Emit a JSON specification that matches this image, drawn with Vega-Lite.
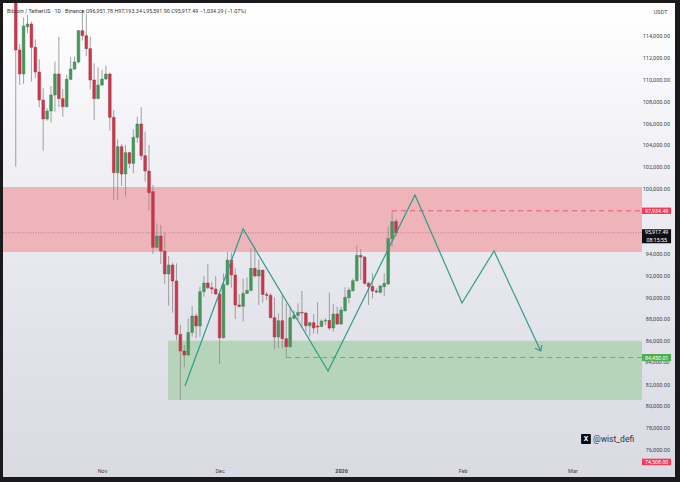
{
"$schema":"https://vega.github.io/schema/vega-lite/v6.json",
"width":672,"height":474,"autosize":"none",
"padding":{"left":3,"top":3,"right":5,"bottom":5},
"background":"#1a1a1c",
"title":{"text":"Bitcoin / TetherUS · 1D · Binance  O96,951.78  H97,193.34  L95,591.90  C95,917.49  −1,034.29 (−1.07%)","anchor":"start","frame":"group","orient":"top","offset":-11,"dx":4,"font":"Roboto","fontSize":5.4,"fontWeight":"normal","color":"#333"},
"config":{"view":{"stroke":null},"font":"Roboto"},
"datasets":{
"candles":[
{"d":"2025-10-10","o":118000,"h":118000,"l":101989,"c":112713},
{"d":"2025-10-11","o":112713,"h":113265,"l":109496,"c":110507},
{"d":"2025-10-12","o":110507,"h":115716,"l":109588,"c":114919},
{"d":"2025-10-13","o":114858,"h":115930,"l":114245,"c":115103},
{"d":"2025-10-14","o":115103,"h":115317,"l":109802,"c":112958},
{"d":"2025-10-15","o":112958,"h":113693,"l":110109,"c":110691},
{"d":"2025-10-16","o":110691,"h":111855,"l":107443,"c":108117},
{"d":"2025-10-17","o":108117,"h":109189,"l":103460,"c":106371},
{"d":"2025-10-18","o":106371,"h":107351,"l":106217,"c":107106},
{"d":"2025-10-19","o":107106,"h":109404,"l":106064,"c":108577},
{"d":"2025-10-20","o":108577,"h":111641,"l":107045,"c":110507},
{"d":"2025-10-21","o":110507,"h":113939,"l":107443,"c":108240},
{"d":"2025-10-22","o":108240,"h":109097,"l":106585,"c":107504},
{"d":"2025-10-23","o":107504,"h":110415,"l":107443,"c":110016},
{"d":"2025-10-24","o":110016,"h":112039,"l":109955,"c":110966},
{"d":"2025-10-25","o":110966,"h":112100,"l":110875,"c":111610},
{"d":"2025-10-26","o":111610,"h":114551,"l":111487,"c":114490},
{"d":"2025-10-27","o":114490,"h":116390,"l":113571,"c":114030},
{"d":"2025-10-28","o":114030,"h":116022,"l":112161,"c":112836},
{"d":"2025-10-29","o":112836,"h":113939,"l":109097,"c":109955},
{"d":"2025-10-30","o":109955,"h":111487,"l":106279,"c":108240},
{"d":"2025-10-31","o":108240,"h":111120,"l":108240,"c":109496},
{"d":"2025-11-01","o":109496,"h":110875,"l":109404,"c":110047},
{"d":"2025-11-02","o":110047,"h":111273,"l":109955,"c":110507},
{"d":"2025-11-03","o":110507,"h":110630,"l":105298,"c":106524},
{"d":"2025-11-04","o":106524,"h":107198,"l":98925,"c":101438},
{"d":"2025-11-05","o":101438,"h":104501,"l":98925,"c":103827},
{"d":"2025-11-06","o":103827,"h":104072,"l":100212,"c":101315},
{"d":"2025-11-07","o":101315,"h":103980,"l":99231,"c":103276},
{"d":"2025-11-08","o":103276,"h":103368,"l":101836,"c":102295},
{"d":"2025-11-09","o":102295,"h":105421,"l":101376,"c":104685},
{"d":"2025-11-10","o":104685,"h":106585,"l":104195,"c":105911},
{"d":"2025-11-11","o":105911,"h":107443,"l":102601,"c":103000},
{"d":"2025-11-12","o":103000,"h":105206,"l":100610,"c":101591},
{"d":"2025-11-13","o":101591,"h":103980,"l":97944,"c":99599},
{"d":"2025-11-14","o":99691,"h":100300,"l":93961,"c":94574},
{"d":"2025-11-15","o":94574,"h":96780,"l":94482,"c":95616},
{"d":"2025-11-16","o":95616,"h":96627,"l":93042,"c":94237},
{"d":"2025-11-17","o":94237,"h":95922,"l":91204,"c":92123},
{"d":"2025-11-18","o":92123,"h":93777,"l":89212,"c":92950},
{"d":"2025-11-19","o":92950,"h":93164,"l":88568,"c":91480},
{"d":"2025-11-20","o":91480,"h":93103,"l":86056,"c":86577},
{"d":"2025-11-21","o":86577,"h":87435,"l":80541,"c":85045},
{"d":"2025-11-22","o":85045,"h":85596,"l":83543,"c":84677},
{"d":"2025-11-23","o":84677,"h":88048,"l":84616,"c":86761},
{"d":"2025-11-24","o":86761,"h":89181,"l":86362,"c":88262},
{"d":"2025-11-25","o":88262,"h":88507,"l":86209,"c":87343},
{"d":"2025-11-26","o":87343,"h":90958,"l":86362,"c":90499},
{"d":"2025-11-27","o":90499,"h":91939,"l":90039,"c":91296},
{"d":"2025-11-28","o":91296,"h":93042,"l":90744,"c":90866},
{"d":"2025-11-29","o":90866,"h":91357,"l":90284,"c":90744},
{"d":"2025-11-30","o":90744,"h":91939,"l":90192,"c":90284},
{"d":"2025-12-01","o":90284,"h":90407,"l":83850,"c":86271},
{"d":"2025-12-02","o":86271,"h":92184,"l":86179,"c":91173},
{"d":"2025-12-03","o":91173,"h":94145,"l":91020,"c":93410},
{"d":"2025-12-04","o":93410,"h":94084,"l":90866,"c":92031},
{"d":"2025-12-05","o":92031,"h":92644,"l":87986,"c":89273},
{"d":"2025-12-06","o":89273,"h":90284,"l":89059,"c":89151},
{"d":"2025-12-07","o":89151,"h":91724,"l":87741,"c":90346},
{"d":"2025-12-08","o":90346,"h":91816,"l":90284,"c":90621},
{"d":"2025-12-09","o":90621,"h":94482,"l":90499,"c":92644},
{"d":"2025-12-10","o":92644,"h":94482,"l":91816,"c":91939},
{"d":"2025-12-11","o":91939,"h":93471,"l":89273,"c":92490},
{"d":"2025-12-12","o":92490,"h":92490,"l":89488,"c":90254},
{"d":"2025-12-13","o":90254,"h":90499,"l":89733,"c":90162},
{"d":"2025-12-14","o":90162,"h":90346,"l":88048,"c":88109},
{"d":"2025-12-15","o":88109,"h":89978,"l":85198,"c":86332},
{"d":"2025-12-16","o":86332,"h":88507,"l":85290,"c":87833},
{"d":"2025-12-17","o":87833,"h":90192,"l":85290,"c":86179},
{"d":"2025-12-18","o":86179,"h":89426,"l":84463,"c":85443},
{"d":"2025-12-19","o":85443,"h":89120,"l":85351,"c":88109},
{"d":"2025-12-20","o":88048,"h":88752,"l":87956,"c":88323},
{"d":"2025-12-21","o":88323,"h":89426,"l":87894,"c":88599},
{"d":"2025-12-22","o":88599,"h":90560,"l":87282,"c":88538},
{"d":"2025-12-23","o":88538,"h":88660,"l":86822,"c":87374},
{"d":"2025-12-24","o":87374,"h":87741,"l":86362,"c":87649},
{"d":"2025-12-25","o":87649,"h":88446,"l":86669,"c":87159},
{"d":"2025-12-26","o":87343,"h":89518,"l":86608,"c":87251},
{"d":"2025-12-27","o":87312,"h":87956,"l":87220,"c":87803},
{"d":"2025-12-28","o":87803,"h":88048,"l":87435,"c":87864},
{"d":"2025-12-29","o":87864,"h":90407,"l":86975,"c":87159},
{"d":"2025-12-30","o":87159,"h":89365,"l":86822,"c":88446},
{"d":"2025-12-31","o":88446,"h":89120,"l":87435,"c":87527},
{"d":"2026-01-01","o":87527,"h":89120,"l":87435,"c":88814},
{"d":"2026-01-02","o":88752,"h":90897,"l":88660,"c":89978},
{"d":"2026-01-03","o":89947,"h":90897,"l":89426,"c":90652},
{"d":"2026-01-04","o":90591,"h":91724,"l":90499,"c":91510},
{"d":"2026-01-05","o":91510,"h":94788,"l":91418,"c":93839},
{"d":"2026-01-06","o":93839,"h":94390,"l":91571,"c":93685},
{"d":"2026-01-07","o":93685,"h":93777,"l":91142,"c":91265},
{"d":"2026-01-08","o":91265,"h":91418,"l":89273,"c":90989},
{"d":"2026-01-09","o":90989,"h":92184,"l":89886,"c":90560},
{"d":"2026-01-10","o":90560,"h":90805,"l":90346,"c":90468},
{"d":"2026-01-11","o":90437,"h":91112,"l":90346,"c":91020},
{"d":"2026-01-12","o":90958,"h":92184,"l":90100,"c":91265},
{"d":"2026-01-13","o":91204,"h":96474,"l":91112,"c":95371},
{"d":"2026-01-14","o":95371,"h":97934,"l":94635,"c":96933},
{"d":"2026-01-15","o":96951,"h":97193,"l":95591,"c":95917}
],
"wave":[
{"t":"2025-11-22T04:00:00Z","p":81835,"s":"path"},
{"t":"2025-12-07T00:00:00Z","p":96263,"s":"path"},
{"t":"2025-12-28T16:00:00Z","p":83213,"s":"path"},
{"t":"2026-01-19T20:00:00Z","p":99388,"s":"path"},
{"t":"2026-01-31T20:00:00Z","p":89463,"s":"path"},
{"t":"2026-02-09T00:00:00Z","p":94242,"s":"path"},
{"t":"2026-02-20T22:00:00Z","p":85050,"s":"path"},
{"t":"2026-02-19T11:00:00Z","p":85300,"s":"head"},
{"t":"2026-02-20T22:00:00Z","p":85050,"s":"head"},
{"t":"2026-02-21T05:00:00Z","p":85600,"s":"head"}
]
},
"layer":[
{"data":{"values":[{"a":"2025-10-06T18:00:00Z","b":"2026-03-27T04:00:00Z","top":117033,"bot":73467}]},
"mark":{"type":"rect","color":{"gradient":"linear","x1":0,"y1":0,"x2":0,"y2":1,"stops":[{"offset":0,"color":"#ffffff"},{"offset":0.5,"color":"#e9e9f0"},{"offset":1,"color":"#d9dae2"}]}},
"encoding":{
"x":{"field":"a","type":"temporal","title":null,
"scale":{"type":"utc","padding":0,"domain":["2025-10-06T18:00:00Z","2026-03-27T04:00:00Z"]},
"axis":{"orient":"bottom","zindex":1,"values":["2025-11-01T00:00:00Z","2025-12-01T00:00:00Z","2026-01-01T00:00:00Z","2026-02-01T00:00:00Z","2026-03-01T00:00:00Z"],"labelExpr":"utcFormat(datum.value,'%b')=='Jan'?'2026':utcFormat(datum.value,'%b')","domain":false,"ticks":false,"grid":false,"labelPadding":-9,"labelFontSize":5.5,"labelColor":"#444","labelBound":false,"labelFlush":false,"labelOverlap":false,"labelFontWeight":{"condition":{"test":"datum.label=='2026'","value":"bold"},"value":"normal"}}},
"x2":{"field":"b"},
"y":{"field":"top","type":"quantitative","title":null,
"scale":{"domain":[73467,117033],"padding":0,"nice":false,"zero":false},
"axis":{"orient":"right","zindex":1,"tickCount":60,"values":[76000,78000,80000,82000,86000,88000,90000,92000,94000,100000,102000,104000,106000,108000,110000,112000,114000],"format":",.2f","domain":false,"ticks":false,"tickSize":0,"grid":false,"labelAlign":"right","labelPadding":-5.5,"labelFontSize":5.5,"labelColor":"#444","labelBound":false,"labelFlush":false,"labelOverlap":false}},
"y2":{"field":"bot"}}},
{"data":{"values":[{"t":"2026-03-25T18:00:00Z","p":84000,"s":"84,000.00"}]},
"mark":{"type":"text","color":"#444444","fontSize":5.5,"align":"right","baseline":"middle"},
"encoding":{"x":{"field":"t","type":"temporal","title":null},"y":{"field":"p","type":"quantitative","title":null},"text":{"field":"s"}}},
{"data":{"values":[
{"a":"2025-10-06T18:00:00Z","b":"2026-03-18T18:00:00Z","top":100123,"bot":94150}]},
"mark":{"type":"rect","color":"#eeb4ba"},
"encoding":{"x":{"field":"a","type":"temporal","title":null},"x2":{"field":"b"},"y":{"field":"top","type":"quantitative","title":null},"y2":{"field":"bot"}}},
{"data":{"values":[
{"a":"2025-11-17T20:00:00Z","b":"2026-03-18T18:00:00Z","top":86000,"bot":80548}]},
"mark":{"type":"rect","color":"#b6d4b9"},
"encoding":{"x":{"field":"a","type":"temporal","title":null},"x2":{"field":"b"},"y":{"field":"top","type":"quantitative","title":null},"y2":{"field":"bot"}}},
{"data":{"values":[{"a":"2025-10-06T18:00:00Z","b":"2026-03-18T18:00:00Z","p":95917.49}]},
"mark":{"type":"rule","color":"#a2585f","strokeWidth":0.6,"strokeDash":[1,1.5]},
"encoding":{"x":{"field":"a","type":"temporal","title":null},"x2":{"field":"b"},"y":{"field":"p","type":"quantitative","title":null}}},
{"data":{"values":[{"a":"2026-01-14","b":"2026-03-18T18:00:00Z","p":97934.49}]},
"mark":{"type":"rule","color":"#e8425c","strokeWidth":0.8,"strokeDash":[5,4]},
"encoding":{"x":{"field":"a","type":"temporal","title":null},"x2":{"field":"b"},"y":{"field":"p","type":"quantitative","title":null}}},
{"data":{"values":[{"a":"2025-12-18","b":"2026-03-18T18:00:00Z","p":84450.01}]},
"mark":{"type":"rule","color":"#4fa85c","strokeWidth":0.8,"strokeDash":[5,4]},
"encoding":{"x":{"field":"a","type":"temporal","title":null},"x2":{"field":"b"},"y":{"field":"p","type":"quantitative","title":null}}},
{"data":{"name":"candles"},
"mark":{"type":"rule","color":"#8c8c8c","strokeWidth":0.8,"clip":true},
"encoding":{"x":{"field":"d","type":"temporal","title":null},"y":{"field":"h","type":"quantitative","title":null},"y2":{"field":"l"}}},
{"data":{"name":"candles"},
"mark":{"type":"bar","width":2.7,"strokeWidth":0.5,"clip":true},
"encoding":{"x":{"field":"d","type":"temporal","title":null},"y":{"field":"o","type":"quantitative","title":null},"y2":{"field":"c"},
"color":{"condition":{"test":"datum.c<datum.o","value":"#c8374c"},"value":"#47975a"},
"stroke":{"condition":{"test":"datum.c<datum.o","value":"#b03045"},"value":"#3c8550"}}},
{"data":{"name":"wave"},
"mark":{"type":"line","color":"#2f9c8a","strokeWidth":1.2,"clip":true},
"encoding":{"x":{"field":"t","type":"temporal","title":null},"y":{"field":"p","type":"quantitative","title":null},"detail":{"field":"s"}}},
{"data":{"values":[
{"a":"2026-03-18T18:00:00Z","b":"2026-03-26T04:00:00Z","top":98230,"bot":97640,"k":"red"},
{"a":"2026-03-18T18:00:00Z","b":"2026-03-26T04:00:00Z","top":84770,"bot":84110,"k":"green"},
{"a":"2026-03-18T18:00:00Z","b":"2026-03-26T04:00:00Z","top":96240,"bot":94950,"k":"black"},
{"a":"2026-03-18T18:00:00Z","b":"2026-03-26T04:00:00Z","top":75150,"bot":74550,"k":"red"}
]},
"mark":{"type":"rect"},
"encoding":{"x":{"field":"a","type":"temporal","title":null},"x2":{"field":"b"},"y":{"field":"top","type":"quantitative","title":null},"y2":{"field":"bot"},
"color":{"field":"k","type":"nominal","legend":null,"scale":{"domain":["red","green","black"],"range":["#f23c58","#4caf50","#101012"]}}}},
{"data":{"values":[
{"t":"2026-03-22T12:00:00Z","p":97934,"s":"97,934.49"},
{"t":"2026-03-22T12:00:00Z","p":84440,"s":"84,450.01"},
{"t":"2026-03-22T12:00:00Z","p":96000,"s":"95,917.49"},
{"t":"2026-03-22T12:00:00Z","p":95250,"s":"08:15:55"},
{"t":"2026-03-22T12:00:00Z","p":74850,"s":"74,508.00"}
]},
"mark":{"type":"text","color":"#ffffff","fontSize":5.3,"align":"center","baseline":"middle"},
"encoding":{"x":{"field":"t","type":"temporal","title":null},"y":{"field":"p","type":"quantitative","title":null},"text":{"field":"s"}}},
{"data":{"values":[{"t":"2026-03-23T12:00:00Z","p":116200,"s":"USDT"}]},
"mark":{"type":"text","color":"#444444","fontSize":5.5,"align":"center","baseline":"middle"},
"encoding":{"x":{"field":"t","type":"temporal","title":null},"y":{"field":"p","type":"quantitative","title":null},"text":{"field":"s"}}},
{"data":{"values":[{"a":"2026-03-03T05:00:00Z","b":"2026-03-05T17:00:00Z","top":77424,"bot":76505}]},
"mark":{"type":"rect","color":"#0c0c0e","cornerRadius":1},
"encoding":{"x":{"field":"a","type":"temporal","title":null},"x2":{"field":"b"},"y":{"field":"top","type":"quantitative","title":null},"y2":{"field":"bot"}}},
{"data":{"values":[{"t":"2026-03-04T11:00:00Z","p":76965,"s":"X"}]},
"mark":{"type":"text","color":"#ffffff","fontSize":7,"fontWeight":"bold","align":"center","baseline":"middle"},
"encoding":{"x":{"field":"t","type":"temporal","title":null},"y":{"field":"p","type":"quantitative","title":null},"text":{"field":"s"}}},
{"data":{"values":[{"t":"2026-03-06T06:00:00Z","p":76965,"s":"@wist_defi"}]},
"mark":{"type":"text","color":"#333338","fontSize":8.5,"align":"left","baseline":"middle"},
"encoding":{"x":{"field":"t","type":"temporal","title":null},"y":{"field":"p","type":"quantitative","title":null},"text":{"field":"s"}}}
]
}
